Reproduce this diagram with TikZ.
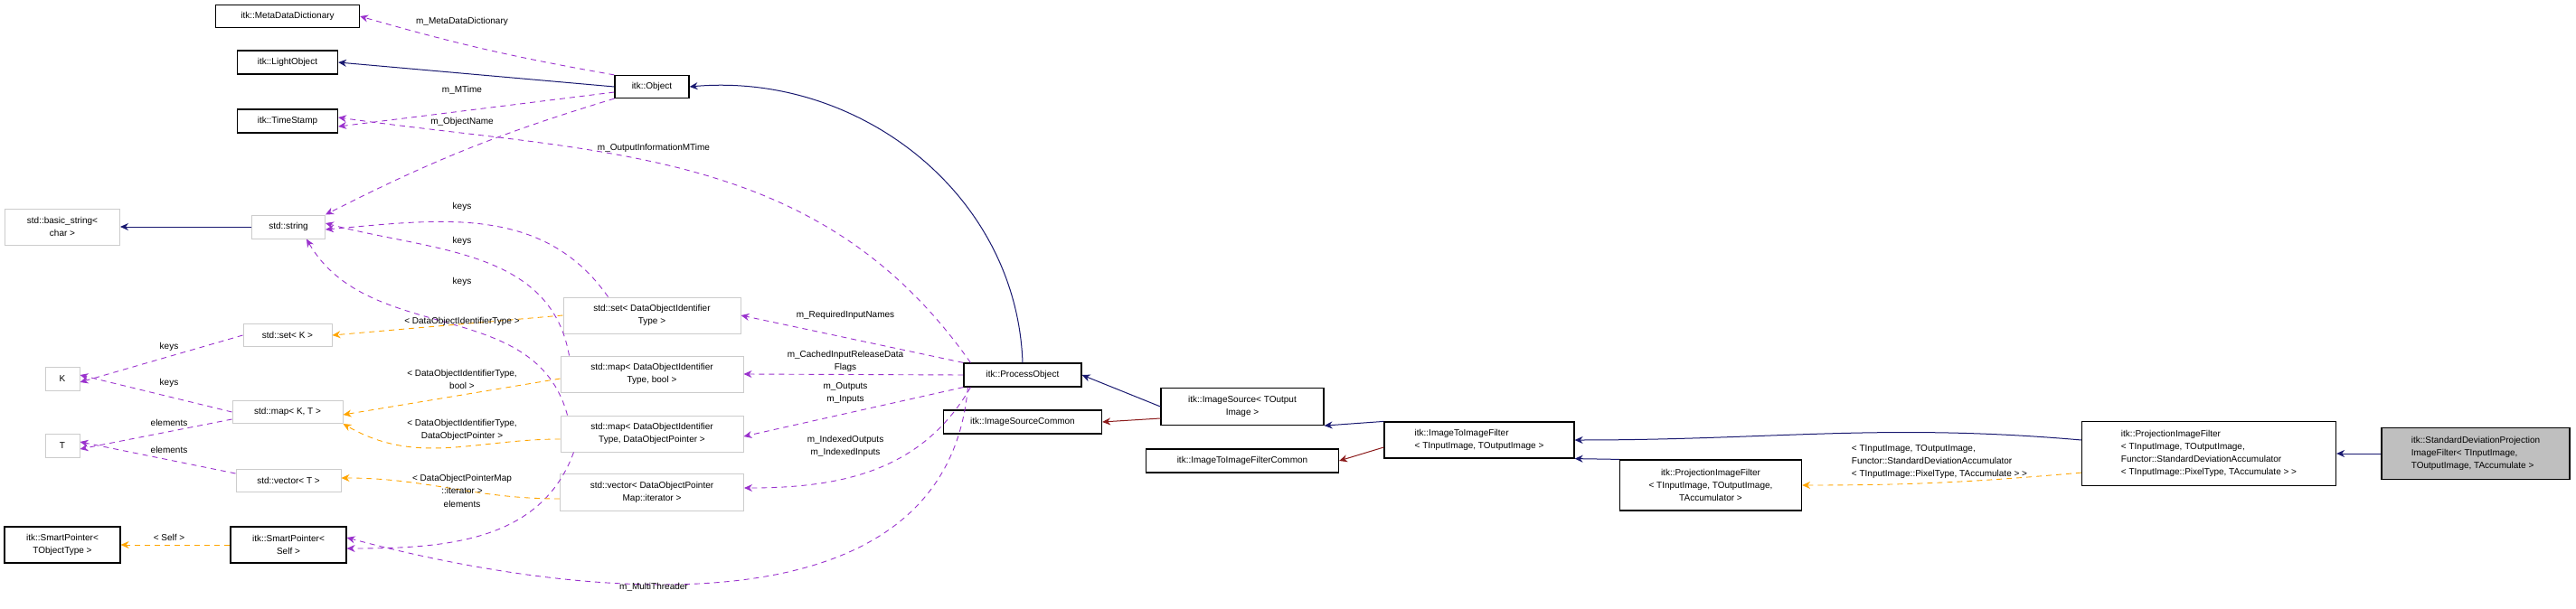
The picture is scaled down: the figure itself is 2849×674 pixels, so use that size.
\documentclass[tikz,border=0pt]{standalone}
\usepackage{fontspec}
\setmainfont{Liberation Sans}
\usetikzlibrary{arrows.meta}
\definecolor{inhblue}{RGB}{25,25,112}
\definecolor{usepurple}{RGB}{154,50,205}
\definecolor{tmplorange}{RGB}{255,165,0}
\definecolor{prvred}{RGB}{139,26,26}
\tikzset{
  doc/.style={draw=black, line width=1.2pt, fill=white, inner sep=2pt, align=center, font=\fontsize{10}{14}\selectfont},
  ext/.style={draw=black!20, line width=1pt, fill=white, inner sep=2pt, align=center, font=\fontsize{10}{14}\selectfont},
  lbl/.style={font=\fontsize{10}{14}\selectfont, align=center, inner sep=1pt},
  inh/.style={draw=inhblue, line width=1pt, -{Stealth[length=9pt,width=8pt]}},
  prv/.style={draw=prvred, line width=1pt, -{Stealth[length=9pt,width=8pt]}},
  use/.style={draw=usepurple, line width=0.9pt, dash pattern=on 6pt off 5pt, -{Stealth[length=9pt,width=8pt]}},
  tmpl/.style={draw=tmplorange, line width=0.9pt, dash pattern=on 6pt off 5pt, -{Stealth[length=9pt,width=8pt]}},
}
\begin{document}
\begin{tikzpicture}[x=1pt, y=-1pt]
  \useasboundingbox (0,0) rectangle (2849,674);
  % left column
  \node[doc, minimum width=159, minimum height=25] (mdd) at (318,18) {itk::MetaDataDictionary};
  \node[doc, minimum width=111, minimum height=26] (light) at (318,69) {itk::LightObject};
  \node[doc, minimum width=111, minimum height=26] (stamp) at (318,134) {itk::TimeStamp};
  \node[doc, minimum width=82, minimum height=25] (obj) at (721,96) {itk::Object};
  \node[ext, minimum width=127, minimum height=40] (bstr) at (69,251) {std::basic\_string\textless\\char \textgreater};
  \node[ext, minimum width=81, minimum height=26] (str) at (319,251) {std::string};
  \node[ext, minimum width=98, minimum height=25] (setk) at (318,371) {std::set\textless{} K \textgreater};
  \node[ext, minimum width=38, minimum height=26] (kk) at (69,419) {K};
  \node[ext, minimum width=122, minimum height=25] (mapkt) at (318,456) {std::map\textless{} K, T \textgreater};
  \node[ext, minimum width=38, minimum height=26] (tt) at (69,493) {T};
  \node[ext, minimum width=116, minimum height=25] (vect) at (319,532) {std::vector\textless{} T \textgreater};
  \node[doc, minimum width=128, minimum height=40] (spobj) at (69,603) {itk::SmartPointer\textless\\TObjectType \textgreater};
  \node[doc, minimum width=128, minimum height=40] (spself) at (319,603) {itk::SmartPointer\textless\\Self \textgreater};
  % middle column
  \node[ext, minimum width=196, minimum height=40] (setid) at (721,349) {std::set\textless{} DataObjectIdentifier\\Type \textgreater};
  \node[ext, minimum width=202, minimum height=40] (mapbool) at (721,414) {std::map\textless{} DataObjectIdentifier\\Type, bool \textgreater};
  \node[ext, minimum width=202, minimum height=40] (mapptr) at (721,480) {std::map\textless{} DataObjectIdentifier\\Type, DataObjectPointer \textgreater};
  \node[ext, minimum width=203, minimum height=41] (vecit) at (721,545) {std::vector\textless{} DataObjectPointer\\Map::iterator \textgreater};
  \node[doc, minimum width=130, minimum height=26] (proc) at (1131,415) {itk::ProcessObject};
  \node[doc, minimum width=175, minimum height=26] (srccom) at (1131,467) {itk::ImageSourceCommon};
  \node[doc, minimum width=180, minimum height=41] (src) at (1374,450) {itk::ImageSource\textless{} TOutput\\Image \textgreater};
  \node[doc, minimum width=213, minimum height=26] (itifcom) at (1374,510) {itk::ImageToImageFilterCommon};
  % right part
  \node[doc, minimum width=210, minimum height=40, align=left] (itif) at (1636,487) {itk::ImageToImageFilter\\\textless{} TInputImage, TOutputImage \textgreater};
  \node[doc, minimum width=201, minimum height=56] (pif) at (1892,537) {itk::ProjectionImageFilter\\\textless{} TInputImage, TOutputImage,\\TAccumulator \textgreater};
  \node[doc, minimum width=281, minimum height=71, align=left] (pifstd) at (2443,502) {itk::ProjectionImageFilter\\\textless{} TInputImage, TOutputImage,\\Functor::StandardDeviationAccumulator\\\textless{} TInputImage::PixelType, TAccumulate \textgreater{} \textgreater};
  \node[doc, fill=black!25, minimum width=208, minimum height=57, align=left] (stddev) at (2738,502) {itk::StandardDeviationProjection\\ImageFilter\textless{} TInputImage,\\TOutputImage, TAccumulate \textgreater};

  % inheritance
  \draw[inh] (obj.west) -- (light.east);
  \draw[inh] (str) -- (bstr);
  \draw[inh] (proc.north) to[out=92, in=5] (obj.east);
  \draw[inh] (src.west) -- (proc.east);
  \draw[prv] (src.west |- srccom.east) ++(0,-4) -- (srccom.east);
  \draw[inh] (itif.north west) -- (src.south east);
  \draw[prv] (itif.west) ++(0,8) -- (itifcom.east);
  \draw[inh] (pif.north west) -- (itif.south west -| itif.south east);
  \draw[inh] (pifstd.west) ++(0,-15) to[out=175, in=0] (itif.east);
  \draw[inh] (stddev.west) -- (pifstd.east);

  % members
  \draw[use] (obj.north west) to[bend left=3] (mdd.east);
  \draw[use] (obj.west) ++(0,6) -- ([yshift=-6pt]stamp.east);
  \draw[use] (obj.south west) to[bend right=5] (str.north east);
  \draw[use] (proc.north west) ++(8,0) to[out=125, in=-8] ([yshift=4pt]stamp.east);
  \draw[use] (setid.north west) ++(50,0) to[out=125, in=5] ([yshift=-3pt]str.east);
  \draw[use] (mapbool.north west) ++(10,0) to[out=100, in=-15] ([yshift=4pt]str.east);
  \draw[use] (mapptr.north west) ++(8,0) to[out=105, in=-60] ([xshift=20pt]str.south);
  \draw[use] (mapptr.south west) ++(15,0) to[out=-110, in=0] ([yshift=-4pt]spself.east);
  \draw[use] (proc.south west) ++(5,0) to[out=-95, in=-15] ([yshift=8pt]spself.east);
  \draw[use] (proc.north west) -- (setid.east);
  \draw[use] (proc.west) -- (mapbool.east);
  \draw[use] (proc.south west) -- ([yshift=-3pt]mapptr.east);
  \draw[use] (proc.south west) ++(8,0) to[out=-120, in=0] ([yshift=5pt]vecit.east);
  \draw[use] (setk.west) -- ([yshift=-4pt]kk.east);
  \draw[use] (mapkt.west) -- ([yshift=4pt]kk.east);
  \draw[use] (mapkt.west) ++(0,8) -- ([yshift=-4pt]tt.east);
  \draw[use] (vect.west) ++(0,-8) -- ([yshift=4pt]tt.east);

  % template instances
  \draw[tmpl] (setid.west) -- (setk.east);
  \draw[tmpl] (mapbool.west) ++(0,5) -- ([yshift=-3pt]mapkt.east);
  \draw[tmpl] (mapptr.west) ++(0,6) to[out=180, in=-30] (mapkt.south east);
  \draw[tmpl] (vecit.west) ++(0,7) to[out=180, in=0] ([yshift=3pt]vect.east);
  \draw[tmpl] (spself.west) -- (spobj.east);
  \draw[tmpl] (pifstd.south west) ++(0,-15) to[out=185, in=0] (pif.east);

  % labels
  \node[lbl] (l1) at (511,24) {m\_MetaDataDictionary};
  \node[lbl] (l2) at (511,100) {m\_MTime};
  \node[lbl] (l3) at (511,135) {m\_ObjectName};
  \node[lbl] (l4) at (723,164) {m\_OutputInformationMTime};
  \node[lbl] (l5) at (511,229) {keys};
  \node[lbl] (l6) at (511,267) {keys};
  \node[lbl] (l7) at (511,312) {keys};
  \node[lbl] (l8) at (511,356) {\textless{} DataObjectIdentifierType \textgreater};
  \node[lbl] (l9) at (187,384) {keys};
  \node[lbl] (l10) at (187,424) {keys};
  \node[lbl] (l11) at (511,420) {\textless{} DataObjectIdentifierType,\\bool \textgreater};
  \node[lbl] (l12) at (187,468) {elements};
  \node[lbl] (l13) at (187,498) {elements};
  \node[lbl] (l14) at (511,476) {\textless{} DataObjectIdentifierType,\\DataObjectPointer \textgreater};
  \node[lbl] (l15) at (511,536) {\textless{} DataObjectPointerMap\\::iterator \textgreater};
  \node[lbl] (l16) at (511,558) {elements};
  \node[lbl] (l17) at (187,595) {\textless{} Self \textgreater};
  \node[lbl] (l18) at (723,650) {m\_MultiThreader};
  \node[lbl] (l19) at (935,349) {m\_RequiredInputNames};
  \node[lbl] (l20) at (935,400) {m\_CachedInputReleaseData\\Flags};
  \node[lbl] (l21) at (935,435) {m\_Outputs\\m\_Inputs};
  \node[lbl] (l22) at (935,494) {m\_IndexedOutputs\\m\_IndexedInputs};
  \node[lbl, align=left] (l23) at (2145,511) {\textless{} TInputImage, TOutputImage,\\Functor::StandardDeviationAccumulator\\\textless{} TInputImage::PixelType, TAccumulate \textgreater{} \textgreater};
\end{tikzpicture}
\end{document}
